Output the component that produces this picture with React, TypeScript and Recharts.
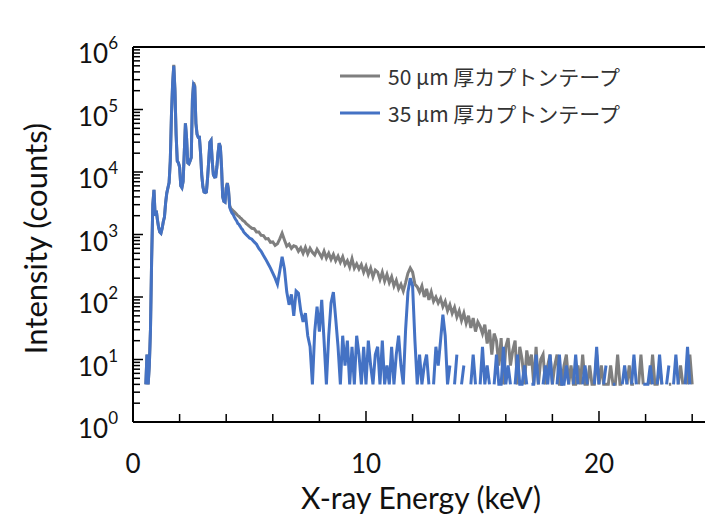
import { LineChart, Line, XAxis, YAxis, ReferenceLine, Legend } from 'recharts'

// spectrum channels: 0.05 keV bins below 5 keV, 0.1 keV bins above
const LOW_START = 0.5
const LOW_STEP = 0.05
const HIGH_START = 5.0
const HIGH_STEP = 0.1

const tape50Low = [
  null, 4, 12, 4, 8, 30, 400, 3000, 5200, 2000,
  2400, 1700, 1300, 1100, 1050, 1250, 1600, 1900, 3200, 4600,
  5600, 6800, 15000, 80000, 260000, 520000, 210000, 40000, 15000, 14000,
  12000, 6000, 5600, 7000, 20000, 60000, 35000, 14000, 13500, 15000,
  17000, 150000, 270000, 240000, 60000, 40000, 36000, 36000, 20000, 9000,
  5800, 4800, 4700, 4800, 8000, 15000, 30000, 32000, 15000, 9000,
  8300, 8400, 12000, 20000, 29000, 25000, 12000, 4000, 3400, 3300,
  5600, 6700, 5100, 2900, 2600, 2500, 2400, 2300, 2200, 2100,
  2000, 1950, 1850, 1800, 1700, 1650, 1600, 1500, 1450, 1400,
]

const tape35Low = [
  null, 4, 12, 4, 8, 30, 400, 3000, 5200, 2000,
  2400, 1700, 1300, 1100, 1050, 1250, 1600, 1900, 3200, 4600,
  5600, 6800, 15000, 80000, 250000, 500000, 200000, 40000, 15000, 14000,
  12000, 6000, 5600, 7000, 20000, 60000, 35000, 14000, 13500, 15000,
  17000, 140000, 250000, 230000, 60000, 40000, 36000, 36000, 20000, 9000,
  5800, 4800, 4700, 4800, 8000, 15000, 30000, 32000, 15000, 9000,
  8300, 8400, 12000, 20000, 29000, 25000, 12000, 4000, 3400, 3300,
  5500, 6600, 5000, 2700, 2400, 2200, 2100, 1900, 1750, 1650,
  1500, 1450, 1350, 1250, 1200, 1100, 1050, 1000, 960, 920,
]

const tape50High = [
  1350, 1260, 1240, 1100, 1100, 970, 960, 850, 860, 750,
  760, 670, 710, 850, 1050, 820, 650, 700, 600, 660,
  640, 540, 610, 500, 620, 490, 600, 520, 470, 580,
  500, 430, 540, 420, 500, 400, 480, 380, 450, 360,
  440, 330, 380, 300, 410, 290, 340, 280, 330, 250,
  310, 230, 290, 210, 270, 250, 190, 250, 180, 230,
  170, 210, 150, 185, 135, 160, 125, 170, 240, 290,
  250, 160, 145, 120, 150, 100, 135, 90, 120, 85,
  100, 80, 95, 70, 85, 60, 75, 55, 68, 48,
  60, 42, 55, 38, 50, 32, 46, 28, 40, 34,
  26, 36, 18, 30, 12, 26, 20, 8, 22, 4,
  16, 22, 8, 14, 20, 4, 16, 10, 4, 14,
  8, 12, 4, 16, 4, 10, 12, 4, 8, 12,
  4, 8, 12, 4, 4, 8, 12, 4, 8, 4,
  4, 8, 4, 12, 4, 4, 8, 4, 4, 12,
  4, 8, 4, 4, 4, 8, 4, 4, 12, 4,
  4, null, 4, 8, 4, 4, null, 4, 12, 4,
  null, null, 4, 12, 4, 4, 8, 4, null, null,
  4, 4, null, null, 4, 8, 4, null, 4, 12,
  4, null, null, 4, null, null,
]

const tape35High = [
  880, 840, 760, 700, 600, 540, 460, 400, 340, 290,
  240, 200, 160, 260, 440, 280, 120, 75, 110, 50,
  125, 115, 60, 40, 55, 24, 16, 4, 28, 70,
  28, 90, 20, 4, 24, 80, 120, 45, 16, 4,
  24, 8, 20, 4, 16, 4, 24, 12, 4, 16,
  4, 20, 8, 4, 12, 16, 4, 20, 4, 8,
  4, 16, 4, 12, 24, 8, 4, 30, 120, 200,
  150, 20, 4, 12, 4, 8, 12, 4, null, 4,
  16, 8, 20, 52, 24, 4, 8, null, 4, 12,
  null, 4, 8, null, null, 4, 12, 4, null, 4,
  16, 4, 8, 4, null, 4, 12, 4, 4, 16,
  4, 8, 4, null, 4, 12, 4, 4, 8, 4,
  null, 4, 4, 12, 4, null, 4, 8, 4, 12,
  4, null, 4, 12, 4, 4, 8, 4, null, 4,
  12, 4, null, 4, 8, 4, null, null, 4, 16,
  4, null, 4, 8, null, null, 4, 4, null, null,
  4, 8, 4, null, 4, 12, 4, null, null, 4,
  4, 4, 8, 4, null, 4, 12, 4, null, 4,
  8, null, 4, 12, 4, null, null, 4, 16, 4,
  null, null, null, null, null, null,
]

const SERIES = [
  { key: 't50', name: '50 μm 厚カプトンテープ', color: '#7F7F7F' },
  { key: 't35', name: '35 μm 厚カプトンテープ', color: '#4472C4' },
]

const X_TICKS = [0, 2, 4, 6, 8, 10, 12, 14, 16, 18, 20, 22, 24]
const X_LABELS = [0, 10, 20]
const DECADES = [1, 10, 100, 1000, 10000, 100000, 1000000]
const Y_TICKS = DECADES.flatMap((d, i) =>
  i === DECADES.length - 1 ? [d] : [1, 2, 3, 4, 5, 6, 7, 8, 9].map(m => m * d)
)

const FONT = 'Lato, "Open Sans", sans-serif'
const CJK = '"Noto Sans CJK JP", "Noto Sans", sans-serif'

const channel = (start: number, step: number, i: number) => Math.round((start + i * step) * 100) / 100

const data = [
  ...tape35Low.map((v, i) => ({ e: channel(LOW_START, LOW_STEP, i), t50: tape50Low[i], t35: v })),
  ...tape35High.map((v, i) => ({ e: channel(HIGH_START, HIGH_STEP, i), t50: tape50High[i], t35: v })),
]

function XTick({ x, y, payload }: any) {
  const major = X_LABELS.includes(payload.value)
  return (
    <g>
      <line x1={x} x2={x} y1={y} y2={y - (major ? 11 : 8)} stroke="#000" strokeWidth={1.5} />
      {major && (
        <text x={x} y={y + 51} textAnchor="middle" fontSize={26} fontFamily={FONT} fill="#111">
          {payload.value}
        </text>
      )}
    </g>
  )
}

function YTick({ x, y, payload }: any) {
  const v = payload.value
  const exp = Math.round(Math.log10(v))
  const major = DECADES.includes(v)
  return (
    <g>
      <line x1={x} x2={x + (major ? 10 : 7)} y1={y} y2={y} stroke="#000" strokeWidth={1.5} />
      {major && (
        <text x={x - 15} y={y + 16} textAnchor="end" fontSize={26} fontFamily={FONT} fill="#111">
          10<tspan dy={-14} fontSize={17}>{exp}</tspan>
        </text>
      )}
    </g>
  )
}

const xTitle = ({ viewBox }: any) => (
  <text x={viewBox.x + viewBox.width / 2 + 2} y={viewBox.y + 87} textAnchor="middle"
    fontSize={30} fontFamily={FONT} fill="#111">
    X-ray Energy (keV)
  </text>
)

const yTitle = ({ viewBox }: any) => {
  const cx = 47
  const cy = viewBox.y + viewBox.height / 2 + 4
  return (
    <text x={cx} y={cy} transform={`rotate(-90 ${cx} ${cy})`} textAnchor="middle"
      fontSize={31} fontFamily={FONT} fill="#111">
      Intensity (counts)
    </text>
  )
}

const renderLegend = () => (
  <div>
    {SERIES.map(s => (
      <div key={s.key} style={{ display: 'flex', alignItems: 'center', height: 37 }}>
        <svg width={40} height={4}>
          <line x1={0} x2={40} y1={2} y2={2} stroke={s.color} strokeWidth={3} />
        </svg>
        <span style={{ marginLeft: 8, fontSize: 21, fontFamily: CJK, color: '#333', whiteSpace: 'nowrap' }}>
          {s.name}
        </span>
      </div>
    ))}
  </div>
)

export default function App() {
  return (
    <div style={{ position: 'absolute', left: 0, top: 0, background: '#fff' }}>
      <LineChart width={705} height={518} data={data} margin={{ top: 47, right: 0, bottom: 0, left: 0 }}>
        <XAxis
          dataKey="e"
          type="number"
          domain={[0, 24.55]}
          ticks={X_TICKS}
          interval={0}
          tickSize={0}
          tickMargin={0}
          tick={<XTick />}
          height={96}
          axisLine={{ stroke: '#000', strokeWidth: 2 }}
          tickLine={false}
          allowDataOverflow
          label={xTitle}
        />
        <YAxis
          type="number"
          scale="log"
          domain={[1, 1000000]}
          ticks={Y_TICKS}
          interval={0}
          tickSize={0}
          tickMargin={0}
          tick={<YTick />}
          width={133}
          axisLine={{ stroke: '#000', strokeWidth: 2 }}
          tickLine={false}
          allowDataOverflow
          label={yTitle}
        />
        <ReferenceLine y={1000000} stroke="#000" strokeWidth={2} />
        {SERIES.map(s => (
          <Line
            key={s.key}
            type="linear"
            dataKey={s.key}
            name={s.name}
            stroke={s.color}
            strokeWidth={3}
            dot={false}
            activeDot={false}
            connectNulls={false}
            isAnimationActive={false}
          />
        ))}
        <Legend
          layout="vertical"
          align="center"
          verticalAlign="middle"
          wrapperStyle={{ top: 57, left: 340, width: 330 }}
          content={renderLegend}
        />
      </LineChart>
    </div>
  )
}
